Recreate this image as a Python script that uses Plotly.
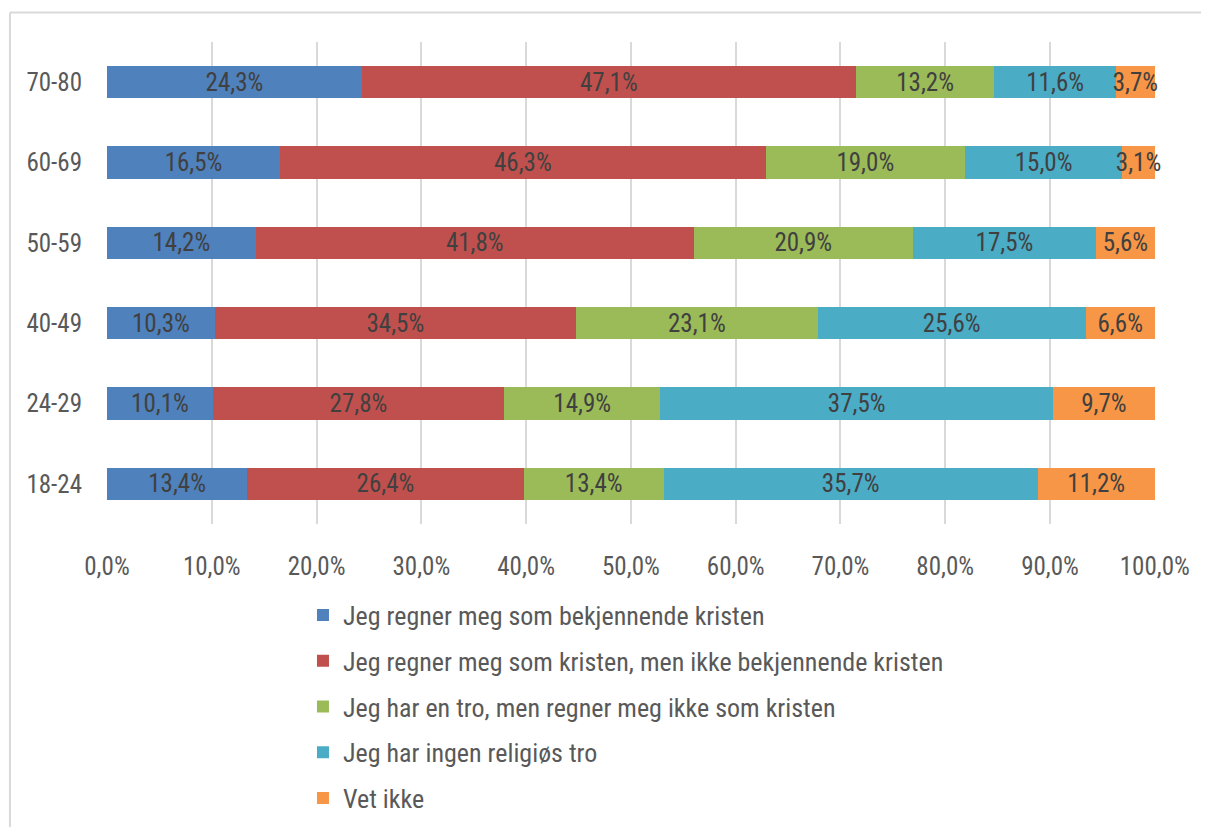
import plotly.graph_objects as go

categories = ["18-24", "24-29", "40-49", "50-59", "60-69", "70-80"]
series_names = [
    "Jeg regner meg som bekjennende kristen",
    "Jeg regner meg som kristen, men ikke bekjennende kristen",
    "Jeg har en tro, men regner meg ikke som kristen",
    "Jeg har ingen religiøs tro",
    "Vet ikke",
]
bekjennende = [13.4, 10.1, 10.3, 14.2, 16.5, 24.3]
kristen_ikke_bekj = [26.4, 27.8, 34.5, 41.8, 46.3, 47.1]
tro_ikke_kristen = [13.4, 14.9, 23.1, 20.9, 19.0, 13.2]
ingen_tro = [35.7, 37.5, 25.6, 17.5, 15.0, 11.6]
vet_ikke = [11.2, 9.7, 6.6, 5.6, 3.1, 3.7]
tick_vals = [0, 10, 20, 30, 40, 50, 60, 70, 80, 90, 100]
tick_text = ["0,0%", "10,0%", "20,0%", "30,0%", "40,0%", "50,0%", "60,0%",
             "70,0%", "80,0%", "90,0%", "100,0%"]

colors = ["#4F81BD", "#C0504D", "#9BBB59", "#4BACC6", "#F79646"]
all_values = [bekjennende, kristen_ikke_bekj, tro_ikke_kristen, ingen_tro, vet_ikke]

FONT = "Roboto Condensed, Roboto, sans-serif"
FS = 25
W = 400
fig = go.Figure()
for i, (name, vals) in enumerate(zip(series_names, all_values)):
    fig.add_trace(go.Bar(
        y=categories, x=vals, name=name, orientation="h",
        marker=dict(color=colors[i], line=dict(width=0)),
        text=[f"{v:.1f}%".replace(".", ",") for v in vals],
        textposition="inside", insidetextanchor="middle",
        constraintext="none", cliponaxis=False,
        textfont=dict(family=FONT, size=FS, color="#404040", weight=W),
        legendgroup=f"g{i}",
        hoverinfo="skip",
    ))

fig.update_layout(
    width=1209, height=827,
    barmode="stack", barnorm="percent", bargap=0.6,
    paper_bgcolor="white", plot_bgcolor="white",
    margin=dict(l=99, r=62, t=34, b=300),
    font=dict(family=FONT, size=FS, color="#595959", weight=W),
    showlegend=True,
    legend=dict(
        orientation="v", x=0.187, xanchor="left", y=-0.14, yanchor="top",
        tracegroupgap=9, font=dict(family=FONT, size=26, color="#595959", weight=W),
        bgcolor="rgba(0,0,0,0)",
    ),
    xaxis=dict(
        range=[0, 100.02], tickvals=tick_vals, ticktext=tick_text,
        showgrid=True, gridcolor="#D9D9D9", gridwidth=2,
        zeroline=False, showline=False,
        ticks="outside", ticklen=20, tickcolor="rgba(0,0,0,0)",
        tickfont=dict(family=FONT, size=FS, color="#595959", weight=W),
        fixedrange=True,
    ),
    yaxis=dict(
        categoryorder="array", categoryarray=categories,
        range=[-0.5, 5.5],
        showgrid=False, zeroline=False, showline=False,
        ticks="", ticklabelstandoff=24,
        tickfont=dict(family=FONT, size=FS, color="#595959", weight=W),
        fixedrange=True,
    ),
    shapes=[
        dict(type="line", xref="paper", yref="paper",
             x0=-0.0926, x1=1.2, y0=1.061, y1=1.061,
             line=dict(color="#D9D9D9", width=2)),
        dict(type="line", xref="paper", yref="paper",
             x0=-0.0926, x1=-0.0926, y0=1.061, y1=-0.7,
             line=dict(color="#D9D9D9", width=2)),
    ],
)

fig.write_html("out.html")
